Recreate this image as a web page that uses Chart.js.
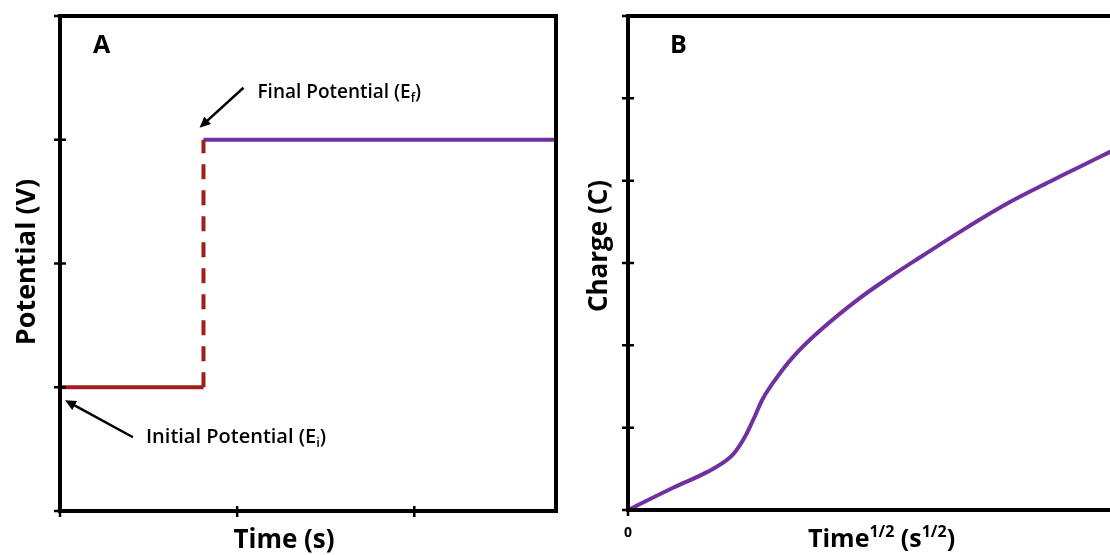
<!DOCTYPE html>
<html lang="en">
<head>
  <meta charset="UTF-8" />
  <title>Potential step and charge</title>
  <script src="https://cdn.jsdelivr.net/npm/chart.js"></script>
  <style>
    body { margin: 0; background: #fff; overflow: hidden; width: 1110px; height: 555px; position: relative; }
    .panel { position: absolute; top: 0; height: 555px; }
    #panelA { left: 0; width: 590px; }
    #panelB { left: 570px; width: 580px; }
  </style>
</head>
<body>
  <div class="panel" id="panelA"><canvas id="stepChart"></canvas></div>
  <div class="panel" id="panelB"><canvas id="chargeChart"></canvas></div>

  <script>
    // Panel A - potential step (arbitrary units)
    const initialTime = [0, 0.81];
    const initialPot  = [1, 1];
    const stepTime    = [0.81, 0.81];
    const stepPot     = [1, 3];
    const finalTime   = [0.81, 2.8];
    const finalPot    = [3, 3];

    // Panel B - charge vs sqrt(time) (arbitrary units)
    const rootTime = [0, 0.91, 1.59, 2.06, 2.32, 2.52, 2.70, 2.86, 3.33, 3.93, 4.62, 5.28, 5.89, 6.83, 7.70, 8.51, 9.11, 9.72, 10];
    const charge   = [0, 0.27, 0.46, 0.64, 0.85, 1.09, 1.33, 1.49, 1.86, 2.21, 2.55, 2.83, 3.07, 3.43, 3.74, 3.99, 4.17, 4.35, 4.43];

    const red = '#A01E1E';
    const purple = '#7030A0';
    const FONT = '"Open Sans", Lato, sans-serif';

    const pts = (xs, ys) => xs.map((x, i) => ({ x: x, y: ys[i] }));

    // draws text made of pieces (for sub/superscripts)
    function richText(ctx, parts, x, y, align) {
      let total = 0;
      parts.forEach(p => {
        ctx.font = (p.w || 'normal') + ' ' + p.s + 'px ' + FONT;
        p.width = ctx.measureText(p.t).width;
        total += p.width;
      });
      let cx = align === 'center' ? x - total / 2 : x;
      ctx.fillStyle = '#000';
      ctx.textAlign = 'left';
      ctx.textBaseline = 'alphabetic';
      parts.forEach(p => {
        ctx.font = (p.w || 'normal') + ' ' + p.s + 'px ' + FONT;
        ctx.fillText(p.t, cx, y + (p.dy || 0));
        cx += p.width;
      });
    }

    function arrow(ctx, x1, y1, x2, y2) {
      const ang = Math.atan2(y2 - y1, x2 - x1);
      const head = 11, half = 5;
      ctx.save();
      ctx.strokeStyle = '#000';
      ctx.fillStyle = '#000';
      ctx.lineWidth = 2.5;
      ctx.beginPath();
      ctx.moveTo(x1, y1);
      ctx.lineTo(x2 - Math.cos(ang) * head * 0.8, y2 - Math.sin(ang) * head * 0.8);
      ctx.stroke();
      ctx.translate(x2, y2);
      ctx.rotate(ang);
      ctx.beginPath();
      ctx.moveTo(0, 0);
      ctx.lineTo(-head, -half);
      ctx.lineTo(-head, half);
      ctx.closePath();
      ctx.fill();
      ctx.restore();
    }

    // box frame + cross ticks at the scale tick positions
    const framePlugin = {
      id: 'frame',
      afterDatasetsDraw(chart) {
        const { ctx, chartArea: a, scales } = chart;
        ctx.save();
        ctx.strokeStyle = '#000';
        ctx.lineWidth = 2.5;
        ctx.beginPath();
        scales.x.ticks.forEach(t => {
          const px = scales.x.getPixelForValue(t.value);
          ctx.moveTo(px, a.bottom - 5);
          ctx.lineTo(px, a.bottom + 6);
        });
        scales.y.ticks.forEach(t => {
          const py = scales.y.getPixelForValue(t.value);
          ctx.moveTo(a.left - 6, py);
          ctx.lineTo(a.left + 6, py);
        });
        ctx.stroke();
        ctx.lineWidth = 4;
        ctx.strokeRect(a.left, a.top, a.right - a.left, a.bottom - a.top);
        ctx.restore();
      }
    };

    function scale(min, max, step, fit, showZero) {
      const ticks = { stepSize: step, includeBounds: false, display: false };
      if (showZero) {
        ticks.display = true;
        ticks.callback = v => (v === 0 ? '0' : '');
        ticks.color = '#000';
        ticks.font = { family: FONT, weight: 'bold', size: 14 };
        ticks.padding = 15;
        ticks.maxRotation = 0;
      }
      return {
        type: 'linear', min: min, max: max,
        border: { display: false },
        grid: { display: false, drawTicks: false },
        ticks: ticks,
        afterFit: fit
      };
    }

    const baseOptions = (scales, padRight) => ({
      responsive: true,
      maintainAspectRatio: false,
      animation: false,
      layout: { padding: { top: 16, right: padRight, left: 0, bottom: 0 } },
      plugins: { legend: { display: false }, tooltip: { enabled: false } },
      scales: scales
    });

    // Panel A annotations
    const notesA = {
      id: 'notesA',
      afterDraw(chart) {
        const { ctx, scales: { x, y } } = chart;
        const fx = x.getPixelForValue(stepTime[0]), fy = y.getPixelForValue(finalPot[0]);
        const ix = x.getPixelForValue(initialTime[0]), iy = y.getPixelForValue(initialPot[0]);
        ctx.save();
        richText(ctx, [{ t: 'A', s: 25, w: 'bold' }], 93, 53);
        arrow(ctx, fx + 40, fy - 52, fx - 4, fy - 12);
        richText(ctx, [{ t: 'Final Potential (E', s: 19, w: '600' }, { t: 'f', s: 12, w: '600', dy: 4 }, { t: ')', s: 19, w: '600' }], fx + 54, fy - 42);
        arrow(ctx, ix + 73, iy + 50, ix + 5, iy + 13);
        richText(ctx, [{ t: 'Initial Potential (E', s: 20, w: '600' }, { t: 'i', s: 13, w: '600', dy: 4 }, { t: ')', s: 20, w: '600' }], ix + 86, iy + 56);
        richText(ctx, [{ t: 'Time (s)', s: 26, w: 'bold' }], 284, 548, 'center');
        ctx.translate(35, 262);
        ctx.rotate(-Math.PI / 2);
        richText(ctx, [{ t: 'Potential (V)', s: 27, w: 'bold' }], 0, 0, 'center');
        ctx.restore();
      }
    };

    const notesB = {
      id: 'notesB',
      afterDraw(chart) {
        const { ctx } = chart;
        ctx.save();
        richText(ctx, [{ t: 'B', s: 25, w: 'bold' }], 100, 53);
        richText(ctx, [
          { t: 'Time', s: 25, w: 'bold' }, { t: '1/2', s: 16, w: 'bold', dy: -10 },
          { t: ' (s', s: 25, w: 'bold' }, { t: '1/2', s: 16, w: 'bold', dy: -10 },
          { t: ')', s: 25, w: 'bold' }
        ], 238, 547);
        ctx.translate(37, 246);
        ctx.rotate(-Math.PI / 2);
        richText(ctx, [{ t: 'Charge (C)', s: 26, w: 'bold' }], 0, 0, 'center');
        ctx.restore();
      }
    };

    new Chart(document.getElementById('stepChart'), {
      type: 'line',
      data: {
        datasets: [
          { data: pts(initialTime, initialPot), borderColor: red, borderWidth: 4, pointRadius: 0 },
          { data: pts(stepTime, stepPot), borderColor: red, borderWidth: 4, borderDash: [15, 11], pointRadius: 0 },
          { data: pts(finalTime, finalPot), borderColor: purple, borderWidth: 4, pointRadius: 0 }
        ]
      },
      options: baseOptions({
        x: scale(0, 2.8, 1, s => { s.height = 44; }),
        y: scale(0, 4, 1, s => { s.width = 60; })
      }, 34),
      plugins: [framePlugin, notesA]
    });

    new Chart(document.getElementById('chargeChart'), {
      type: 'line',
      data: {
        datasets: [
          { data: pts(rootTime, charge), borderColor: purple, borderWidth: 4, pointRadius: 0, tension: 0.4 }
        ]
      },
      options: baseOptions({
        x: scale(0, 10, 20, s => { s.height = 45; }, true),
        y: scale(0, 6, 1, s => { s.width = 58; })
      }, 26),
      plugins: [framePlugin, notesB]
    });
  </script>
</body>
</html>
